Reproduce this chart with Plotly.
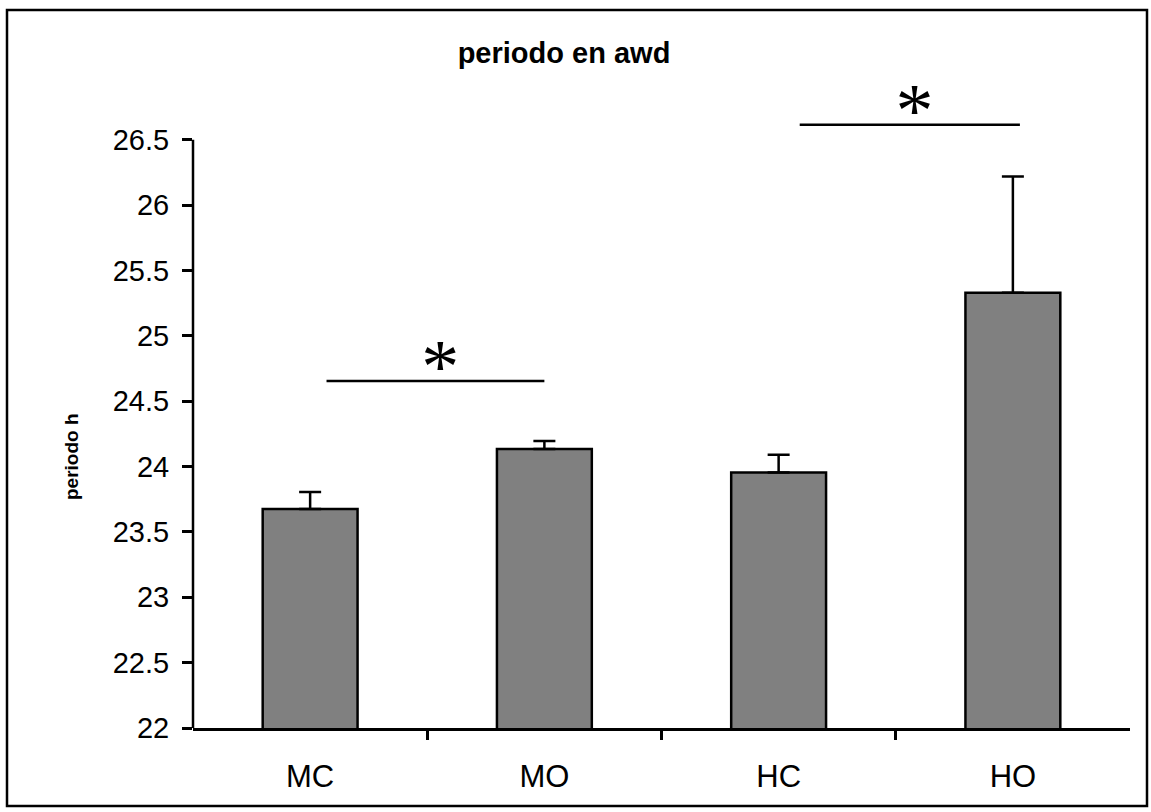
import plotly.graph_objects as go

# ---- data ----
categories = ["MC", "MO", "HC", "HO"]
means = [23.675, 24.135, 23.955, 25.33]
errors = [0.13, 0.06, 0.135, 0.89]
y_ticks = [22, 22.5, 23, 23.5, 24, 24.5, 25, 25.5, 26, 26.5]
sig_from = [0.07, 2.09]
sig_to = [1.0, 3.03]
sig_level = [24.655, 26.615]
sig_mark = ["*", "*"]

x_pos = list(range(len(categories)))
boundaries = [i + 0.5 for i in x_pos[:-1]]

W, H = 1151, 812
ML, MR, MT, MB = 193, 21, 81, 84
PW, PH = W - ML - MR, H - MT - MB

FONT = "Liberation Sans, Arial, sans-serif"

fig = go.Figure()
fig.add_trace(go.Bar(
    x=x_pos, y=means, width=0.405,
    marker=dict(color="#808080", line=dict(color="black", width=2.5)),
    error_y=dict(type="data", array=errors, arrayminus=[0] * len(errors),
                 symmetric=False, color="black", thickness=2.5, width=11),
    showlegend=False, hoverinfo="skip",
))

for x0, x1, lvl, mark in zip(sig_from, sig_to, sig_level, sig_mark):
    fig.add_trace(go.Scatter(
        x=[x0, x1], y=[lvl, lvl], mode="lines",
        line=dict(color="black", width=2.5), showlegend=False, hoverinfo="skip",
    ))
    fig.add_trace(go.Scatter(
        x=[(x0 + x1) / 2 + 0.02], y=[lvl + 0.06], mode="text", text=[mark],
        textfont=dict(family="Liberation Serif, Times New Roman, serif", size=76, color="black"),
        textposition="middle center", cliponaxis=False,
        showlegend=False, hoverinfo="skip",
    ))

def px_x(px):
    return (px - ML) / PW

def px_y(py):
    return (H - MB - py) / PH

shapes = [
    # y axis line, only up to the last tick
    dict(type="line", xref="paper", yref="y", x0=0, x1=0, y0=y_ticks[0], y1=y_ticks[-1],
         line=dict(color="black", width=2.5)),
    # outer chart border
    dict(type="rect", xref="paper", yref="paper", x0=px_x(7), x1=px_x(1147),
         y0=px_y(806), y1=px_y(10), line=dict(color="black", width=2.5)),
]

annotations = [
    dict(text="<b>periodo h</b>", textangle=-90, xref="paper", yref="paper",
         x=px_x(71), y=px_y(457), xanchor="center", yanchor="middle",
         showarrow=False, font=dict(family=FONT, size=19, color="black")),
]

fig.update_layout(
    width=W, height=H,
    margin=dict(l=ML, r=MR, t=MT, b=MB),
    paper_bgcolor="white", plot_bgcolor="white",
    font=dict(family=FONT, color="black"),
    title=dict(text="<b>periodo en awd</b>", x=564 / W, xref="container", xanchor="center",
               y=1 - 53 / H, yref="container", yanchor="middle",
               font=dict(family=FONT, size=29, color="black")),
    xaxis=dict(range=[-0.5, 3.5], tickmode="array", tickvals=x_pos, ticktext=categories,
               ticks="", showline=True, linecolor="black", linewidth=2.5,
               showgrid=False, zeroline=False, tickfont=dict(size=31),
               ticklabelstandoff=19,
               minor=dict(tickmode="array", tickvals=boundaries, ticks="outside",
                          ticklen=9, tickwidth=2.5, tickcolor="black", showgrid=False)),
    yaxis=dict(range=[22, 26.95], tickmode="array", tickvals=y_ticks,
               ticks="outside", ticklen=10, tickwidth=2.5, tickcolor="black",
               showline=False, showgrid=False, zeroline=False, tickfont=dict(size=29),
               ticklabelstandoff=7),
    shapes=shapes,
    annotations=annotations,
)

fig.write_html(
    "out.html",
    config={"displayModeBar": False},
    post_script="document.body.style.margin='0';document.body.style.overflow='hidden';",
)
